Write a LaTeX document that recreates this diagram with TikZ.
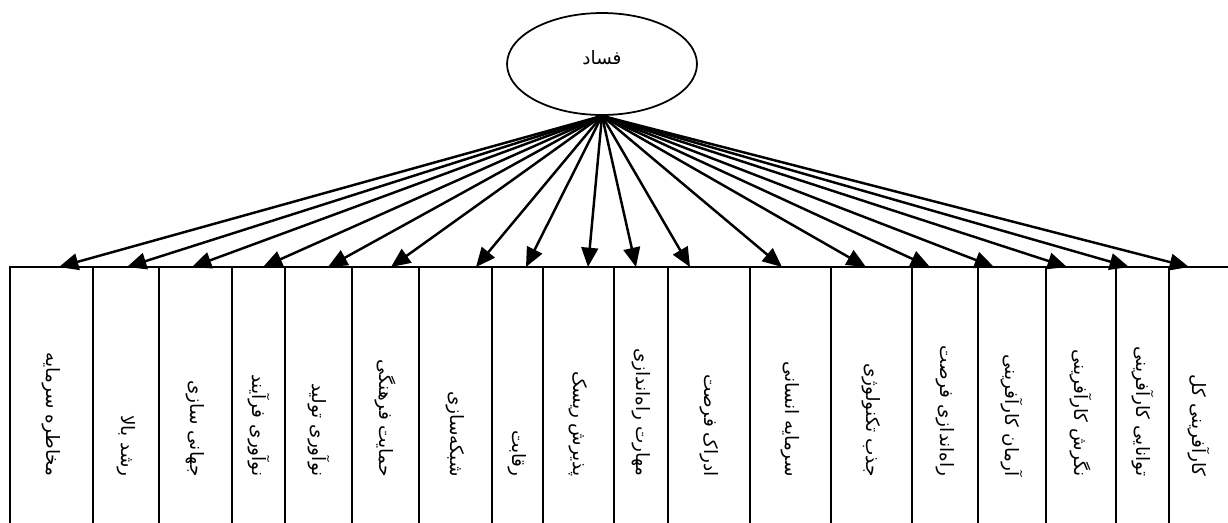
\documentclass[tikz,border=0pt]{standalone}
\usepackage{fontspec}
\usepackage{tikz}
\usetikzlibrary{arrows.meta,shapes.geometric}
\newfontfamily\farsi[Script=Arabic]{DejaVu Sans}
\TeXXeTstate=1
\newcommand{\fa}[1]{{\farsi\beginR #1\endR}}

\begin{document}
\begin{tikzpicture}[x=0.02cm, y=-0.02cm,
        cell/.style={draw, line width=1.1pt, anchor=north west, outer sep=0pt,
                     inner sep=0pt, minimum height=5.4cm},
        celltext/.style={rotate=-90, anchor=east, inner sep=0pt, font=\fontsize{10.5}{12}\selectfont},
        fan/.style={line width=1.4pt, -{Triangle[length=11pt,width=9.5pt]}}]
        \useasboundingbox (0,0) rectangle (1228,522);
        \clip (0,0) rectangle (1228,522);
        \node [draw, line width=1pt, ellipse, minimum width=3.8cm, minimum height=2.04cm]
              (fasad) at (602,64) {};                                     %
        \node at (602,58) (fasadtext) {\fontsize{10.5}{12}\selectfont\fa{فساد}};
        \node [cell, minimum width=1.66cm] (b1)  at (10,267)   {};       %
        \node [cell, minimum width=1.32cm] (b2)  at (93,267)   {};       %
        \node [cell, minimum width=1.46cm] (b3)  at (159,267)  {};       %
        \node [cell, minimum width=1.06cm] (b4)  at (232,267)  {};       %
        \node [cell, minimum width=1.34cm] (b5)  at (285,267)  {};       %
        \node [cell, minimum width=1.34cm] (b6)  at (352,267)  {};       %
        \node [cell, minimum width=1.46cm] (b7)  at (419,267)  {};       %
        \node [cell, minimum width=1.02cm] (b8)  at (492,267)  {};       %
        \node [cell, minimum width=1.42cm] (b9)  at (543,267)  {};       %
        \node [cell, minimum width=1.08cm] (b10) at (614,267)  {};       %
        \node [cell, minimum width=1.64cm] (b11) at (668,267)  {};       %
        \node [cell, minimum width=1.62cm] (b12) at (750,267)  {};       %
        \node [cell, minimum width=1.62cm] (b13) at (831,267)  {};       %
        \node [cell, minimum width=1.32cm] (b14) at (912,267)  {};       %
        \node [cell, minimum width=1.36cm] (b15) at (978,267)  {};       %
        \node [cell, minimum width=1.40cm] (b16) at (1046,267) {};       %
        \node [cell, minimum width=1.06cm] (b17) at (1116,267) {};       %
        \node [cell, minimum width=1.42cm] (b18) at (1169,267) {};       %right side cut
        \node [celltext] (t1)  at (51.5,477)   {\fa{مخاطره سرمایه}};
        \node [celltext] (t2)  at (126,477)    {\fa{رشد بالا}};
        \node [celltext] (t3)  at (195.5,477)  {\fa{جهانی سازی}};
        \node [celltext] (t4)  at (258.5,477)  {\fa{نوآوری فرآیند}};
        \node [celltext] (t5)  at (318.5,477)  {\fa{نوآوری تولید}};
        \node [celltext] (t6)  at (385.5,477)  {\fa{حمایت فرهنگی}};
        \node [celltext] (t7)  at (455.5,477)  {\fa{شبکه‌سازی}};
        \node [celltext] (t8)  at (517.5,477)  {\fa{رقابت}};
        \node [celltext] (t9)  at (578.5,477)  {\fa{پذیرش ریسک}};
        \node [celltext] (t10) at (641,477)    {\fa{مهارت راه‌اندازی}};
        \node [celltext] (t11) at (709,477)    {\fa{ادراک فرصت}};
        \node [celltext] (t12) at (790.5,477)  {\fa{سرمایه انسانی}};
        \node [celltext] (t13) at (871.5,477)  {\fa{جذب تکنولوژی}};
        \node [celltext] (t14) at (945,477)    {\fa{راه‌اندازی فرصت}};
        \node [celltext] (t15) at (1012,477)   {\fa{آرمان کارآفرینی}};
        \node [celltext] (t16) at (1081,477)   {\fa{نگرش کارآفرینی}};
        \node [celltext] (t17) at (1142.5,477) {\fa{توانایی کارآفرینی}};
        \node [celltext] (t18) at (1198.5,477) {\fa{کارآفرینی کل}};
        \draw [fan] (fasad.south) -- ([xshift=0.15cm]b1.north);          %
        \draw [fan] (fasad.south) -- ([xshift=0.02cm]b2.north);          %
        \draw [fan] (fasad.south) -- ([xshift=-0.07cm]b3.north);         %
        \draw [fan] (fasad.south) -- ([xshift=0.09cm]b4.north);          %
        \draw [fan] (fasad.south) -- ([xshift=0.19cm]b5.north);          %
        \draw [fan] (fasad.south) -- ([xshift=0.11cm]b6.north);          %
        \draw [fan] (fasad.south) -- ([xshift=0.41cm]b7.north);          %
        \draw [fan] (fasad.south) -- ([xshift=0.17cm]b8.north);          %
        \draw [fan] (fasad.south) -- ([xshift=0.19cm]b9.north);          %
        \draw [fan] (fasad.south) -- ([xshift=-0.10cm]b10.north);        %
        \draw [fan] (fasad.south) -- ([xshift=-0.38cm]b11.north);        %
        \draw [fan] (fasad.south) -- ([xshift=-0.17cm]b12.north);        %
        \draw [fan] (fasad.south) -- ([xshift=-0.11cm]b13.north);        %
        \draw [fan] (fasad.south) -- ([xshift=-0.30cm]b14.north);        %
        \draw [fan] (fasad.south) -- ([xshift=-0.36cm]b15.north);        %
        \draw [fan] (fasad.south) -- ([xshift=-0.28cm]b16.north);        %
        \draw [fan] (fasad.south) -- ([xshift=-0.27cm]b17.north);        %
        \draw [fan] (fasad.south) -- ([xshift=-0.31cm]b18.north);        %
\end{tikzpicture}
\end{document}
